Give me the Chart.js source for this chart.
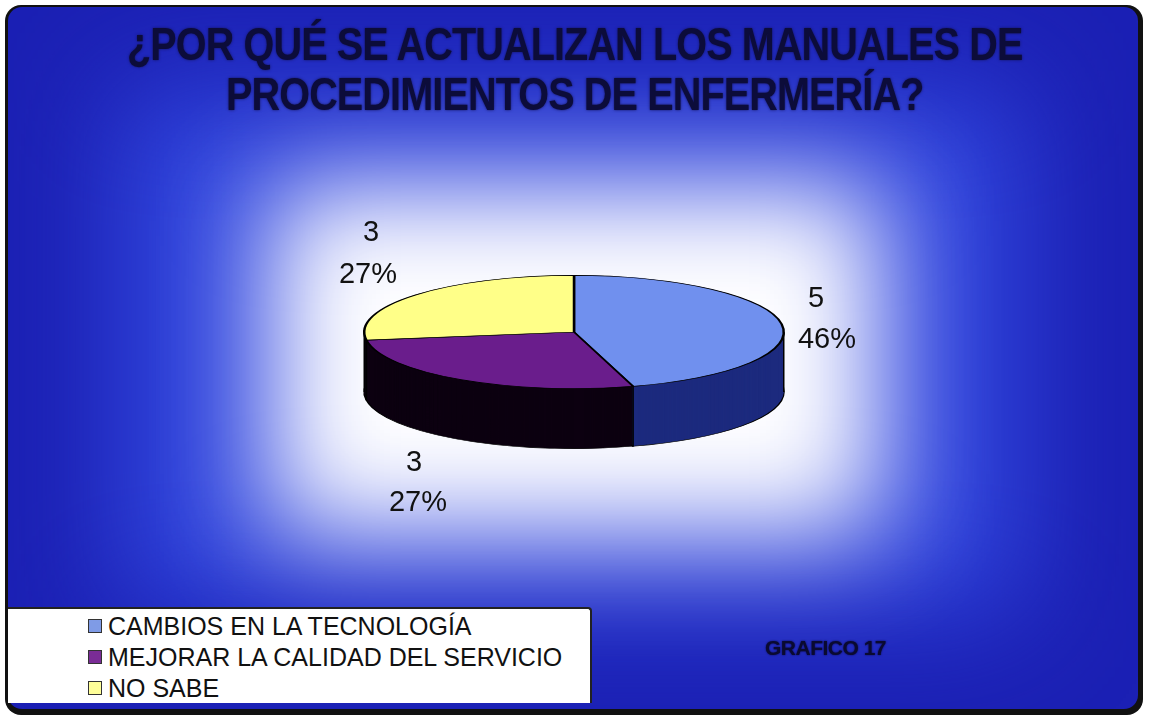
<!DOCTYPE html>
<html>
<head>
<meta charset="utf-8">
<script src="https://cdn.jsdelivr.net/npm/chart.js@4.4.0/dist/chart.umd.min.js"></script>
<style>
  html, body { margin: 0; padding: 0; background: #fff; }
  #wrap { position: relative; width: 1149px; height: 723px; overflow: hidden; }
  #myChart { position: absolute; left: 0; top: 0; }
  #titulo {
    position: absolute; left: 0; top: 19px; width: 1149px; text-align: center;
    font-family: "Liberation Sans", Arial, sans-serif;
    font-weight: bold; font-size: 46px; line-height: 50px; color: #0c0c3a;
    letter-spacing: -1px; text-shadow: 0 0 3px #14145a;
    transform: scaleX(0.86); transform-origin: 576px 0;
  }
  #leyenda {
    position: absolute; left: 8px; top: 607px; width: 582px; height: 94px;
    background: #fff; border-top: 2px solid #222; border-right: 2px solid #222;
    border-top-right-radius: 4px;
    font-family: "Liberation Sans", Arial, sans-serif; font-size: 25px; color: #111;
  }
  #leyenda div { position: absolute; left: 80px; line-height: 28px; letter-spacing: 0; }
  #leyenda span.box {
    display: inline-block; width: 12px; height: 12px; border: 1px solid #333;
    margin-right: 6px; vertical-align: 2px;
  }
  #grafico {
    position: absolute; left: 765px; top: 636px;
    font-family: "Liberation Sans", Arial, sans-serif;
    font-weight: bold; font-size: 21px; color: #0a0a30; letter-spacing: -0.5px;
    text-shadow: 0 0 2px #0a0a40;
  }
</style>
</head>
<body>
<div id="wrap">
  <canvas id="myChart" width="1149" height="723"></canvas>
  <div id="titulo">¿POR QUÉ SE ACTUALIZAN LOS MANUALES DE<br>PROCEDIMIENTOS DE ENFERMERÍA?</div>
  <div id="leyenda"></div>
  <div id="grafico">GRAFICO 17</div>
</div>
<script>
var categorias = ['CAMBIOS EN LA TECNOLOGÍA', 'MEJORAR LA CALIDAD DEL SERVICIO', 'NO SABE'];
var valores = [5, 3, 3];
var porcentajes = ['46%', '27%', '27%'];
var coresTopo = ['#7090ee', '#6a1d8c', '#ffff88'];
var coresLado = ['#1c2a7e', '#0c0010', '#0c0010'];
var coresLegenda = ['#7f9be6', '#7a2c96', '#ffff99'];

// legenda em html
var leg = document.getElementById('leyenda');
for (var i = 0; i < categorias.length; i++) {
    var d = document.createElement('div');
    d.style.top = (3 + i * 31) + 'px';
    d.innerHTML = '<span class="box" style="background:' + coresLegenda[i] + '"></span>' + categorias[i];
    leg.appendChild(d);
}

var achatar = 0.27;
var altura = 60;

var fundo = {
    id: 'fundo',
    beforeDraw: function(chart){
        var ctx = chart.ctx;
        ctx.save();
        ctx.beginPath();
        ctx.roundRect(5, 5, 1138, 710, 16);
        ctx.fillStyle = '#111';
        ctx.fill();
        ctx.beginPath();
        ctx.roundRect(8, 7, 1130, 702, 14);
        ctx.clip();
        ctx.fillStyle = '#1b20b4';
        ctx.fillRect(0, 0, 1149, 723);
        ctx.filter = 'blur(60px)';
        ctx.fillStyle = '#3248e0';
        ctx.fillRect(120, 90, 900, 520);
        ctx.filter = 'blur(55px)';
        ctx.fillStyle = '#ffffff';
        ctx.fillRect(270, 185, 610, 350);
        ctx.restore();
    }
};

var pizza3d = {
    id: 'pizza3d',
    beforeDatasetsDraw: function(chart){
        var ctx = chart.ctx;
        var arcs = chart.getDatasetMeta(0).data;
        var cx = arcs[0].x, cy = arcs[0].y, r = arcs[0].outerRadius;
        ctx.save();
        ctx.translate(cx, cy);
        ctx.scale(1, achatar);
        ctx.translate(-cx, -cy);
        for (var off = altura; off >= 0; off--) {
            for (var i = 0; i < arcs.length; i++) {
                var a = arcs[i];
                ctx.beginPath();
                ctx.moveTo(cx, cy + off / achatar);
                ctx.arc(cx, cy + off / achatar, r, a.startAngle, a.endAngle);
                ctx.closePath();
                ctx.fillStyle = coresLado[i];
                ctx.fill();
                if (off == altura) {
                    ctx.lineWidth = 2;
                    ctx.strokeStyle = '#000';
                    ctx.stroke();
                }
            }
        }
        ctx.restore();
        // bordas verticais
        ctx.save();
        ctx.strokeStyle = '#000';
        ctx.lineWidth = 1.5;
        ctx.beginPath();
        ctx.moveTo(cx - r, cy); ctx.lineTo(cx - r, cy + altura);
        ctx.moveTo(cx + r, cy); ctx.lineTo(cx + r, cy + altura);
        for (var i = 0; i < arcs.length; i++) {
            var ang = arcs[i].startAngle;
            if (Math.sin(ang) > 0) {
                var px = cx + r * Math.cos(ang), py = cy + r * Math.sin(ang) * achatar;
                ctx.moveTo(px, py); ctx.lineTo(px, py + altura);
            }
        }
        ctx.stroke();
        ctx.restore();
        // topo achatado
        ctx.save();
        ctx.translate(cx, cy);
        ctx.scale(1, achatar);
        ctx.translate(-cx, -cy);
    },
    afterDatasetsDraw: function(chart){
        var ctx = chart.ctx;
        ctx.restore();
        var arcs = chart.getDatasetMeta(0).data;
        // posicao do valor e do percentual de cada fatia
        var posValor = [[816, 299], [414, 463], [371, 233]];
        var posPerc = [[827, 340], [418, 503], [368, 275]];
        ctx.save();
        ctx.font = '29px "Liberation Sans", Arial, sans-serif';
        ctx.fillStyle = '#111';
        ctx.textAlign = 'center';
        ctx.textBaseline = 'middle';
        for (var i = 0; i < arcs.length; i++) {
            ctx.fillText(String(valores[i]), posValor[i][0], posValor[i][1]);
            ctx.fillText(porcentajes[i], posPerc[i][0], posPerc[i][1]);
        }
        ctx.restore();
    }
};

var ctx = document.getElementById('myChart');
var myChart = new Chart(ctx, {
    type: 'pie',
    data: {
        labels: categorias,
        datasets: [{
            data: valores,
            backgroundColor: coresTopo,
            borderColor: '#000',
            borderWidth: 2.5
        }]
    },
    options: {
        responsive: false,
        animation: false,
        layout: { padding: { left: 363, right: 364, top: 121, bottom: 180 } },
        plugins: {
            legend: { display: false },
            tooltip: { enabled: false }
        }
    },
    plugins: [fundo, pizza3d]
});
</script>
</body>
</html>
